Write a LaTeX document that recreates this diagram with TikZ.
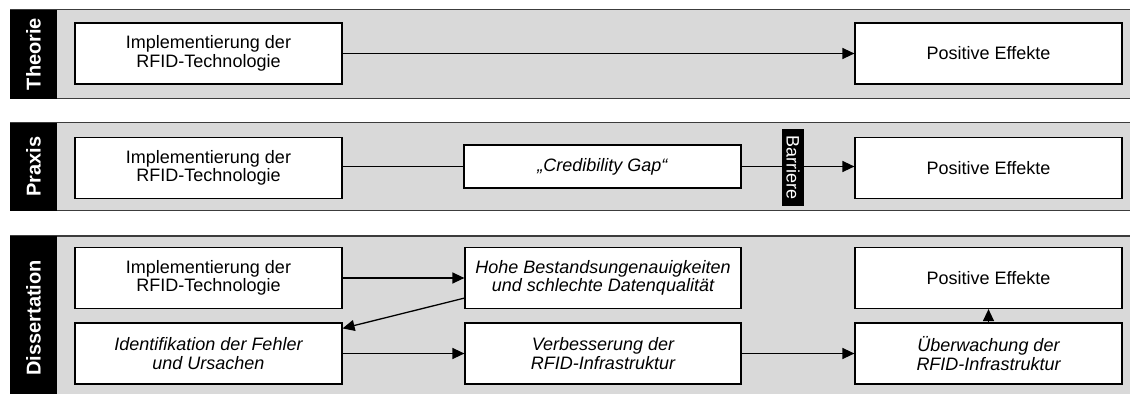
\documentclass[tikz,border=0pt]{standalone}
\usepackage{fontspec}
\setmainfont{Liberation Sans}
\usetikzlibrary{arrows.meta,calc}
\definecolor{bandgray}{HTML}{D9D9D9}
\definecolor{bandline}{HTML}{3C3C3C}
\tikzset{
  band/.style={fill=bandgray, draw=none},
  bandedge/.style={draw=bandline, line width=1.6pt},
  tag/.style={fill=black, draw=none},
  tagtext/.style={text=white, font=\fontsize{20}{22}\selectfont\bfseries, rotate=90, inner sep=0pt},
  box/.style={draw=black, fill=white, line width=1.2pt, align=center,
    font=\fontsize{18}{18.5}\selectfont, inner sep=0pt, minimum height=61pt, minimum width=267pt},
  midbox/.style={box, minimum width=276pt},
  emph/.style={font=\fontsize{18}{18.5}\selectfont\itshape},
  link/.style={draw=black, line width=1.3pt},
  flow/.style={link, -{Triangle[length=12pt,width=11pt]}},
}
\begin{document}
\begin{tikzpicture}[x=1pt,y=-1pt]
\useasboundingbox (0,0) rectangle (1130,394);

% ---- bands ----
\path[band] (10,9.5) rectangle (1130,98.5);
\draw[bandedge] (10,9.5) -- (1130,9.5);
\draw[bandedge] (10,98.5) -- (1130,98.5);
\path[tag] (10,9.5) rectangle (57,98.5);
\node[tagtext] (tTheorie) at (33.5,54) {Theorie};

\path[band] (10,122.5) rectangle (1130,210.5);
\draw[bandedge] (10,122.5) -- (1130,122.5);
\draw[bandedge] (10,210.5) -- (1130,210.5);
\path[tag] (10,122.5) rectangle (57,210.5);
\node[tagtext] (tPraxis) at (33.5,166.5) {Praxis};

\path[band] (10,236) rectangle (1130,394);
\draw[bandedge] (10,236) -- (1130,236);
\path[tag] (10,236) rectangle (57,394);
\node[tagtext] (tDiss) at (33.5,318) {Dissertation};

% ---- Theorie ----
\node[box] (thImpl) at (208.5,53.5) {Implementierung der\\RFID-Technologie};
\node[box] (thPos) at (988.5,53.5) {Positive Effekte};
\draw[flow] (thImpl) -- (thPos);

% ---- Praxis ----
\node[box] (prImpl) at (208.5,168) {Implementierung der\\RFID-Technologie};
\node[midbox, minimum height=43pt, minimum width=277pt, emph] (prGap) at (602.5,166.5) {„Credibility Gap“};
\node[box] (prPos) at (988.5,168) {Positive Effekte};
\node[fill=black, minimum width=22pt, minimum height=77pt, inner sep=0pt] (prBar) at (793,167.5) {};
\node[rotate=-90, text=white, font=\fontsize{18}{18.5}\selectfont, inner sep=0pt] (prBarText) at (prBar.center) {Barriere};
\draw[link] (prImpl.east |- prGap.west) -- (prGap.west);
\draw[link] (prGap.east) -- (prGap.east -| prBar.west);
\draw[flow] (prBar.east |- prGap.east) -- (prPos.west |- prGap.east);

% ---- Dissertation ----
\node[box] (dImpl) at (208.5,278) {Implementierung der\\RFID-Technologie};
\node[box, emph] (dIdent) at (208.5,353.5) {Identifikation der Fehler\\und Ursachen};
\node[midbox, emph] (dHohe) at (603,278) {Hohe Bestandsungenauigkeiten\\und schlechte Datenqualität};
\node[midbox, emph] (dVerb) at (603,353.5) {Verbesserung der\\RFID-Infrastruktur};
\node[box] (dPos) at (988.5,278) {Positive Effekte};
\node[box, emph] (dUeb) at (988.5,353.5) {Überwachung der\\RFID-Infrastruktur};

\draw[flow] (dImpl) -- (dHohe);
\draw[flow] ($(dHohe.south west)+(0,11pt)$) -- ($(dIdent.north east)+(0,-6pt)$);
\draw[flow] (dIdent) -- (dVerb);
\draw[flow] (dVerb) -- (dUeb);
\draw[flow] (dUeb) -- (dPos);
\end{tikzpicture}
\end{document}
